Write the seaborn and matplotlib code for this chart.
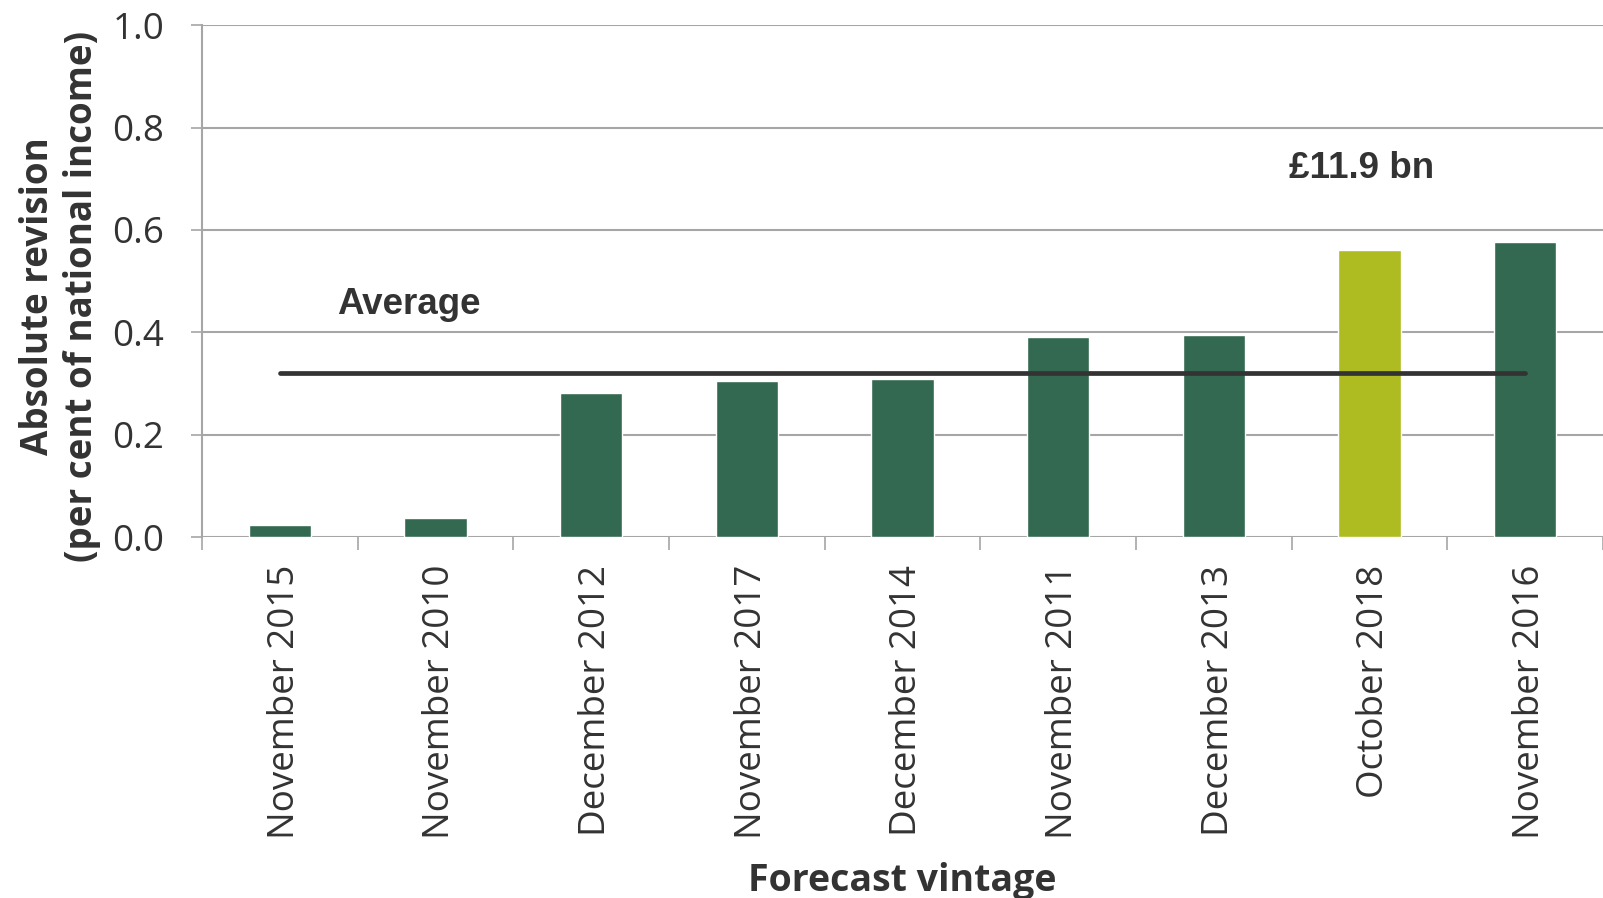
import numpy as np
import pandas as pd
import matplotlib
matplotlib.use("Agg")
import matplotlib.pyplot as plt
import matplotlib.transforms as mtransforms
import seaborn as sns

# ── Data ──────────────────────────────────────────
vintages = ["November 2015", "November 2010", "December 2012", "November 2017",
            "December 2014", "November 2011", "December 2013", "October 2018",
            "November 2016"]
revisions = [0.024, 0.038, 0.281, 0.305, 0.309, 0.391, 0.395, 0.561, 0.577]
average_revision = 0.321
highlight = "October 2018"
highlight_note = "£11.9 bn"

dark_green = "#336950"
lime = "#AEBC21"
text_col = "#333333"
grid_col = "#A6A6A6"

df = pd.DataFrame({"vintage": vintages, "revision": revisions})
palette = {v: (lime if v == highlight else dark_green) for v in vintages}

# ── Plot ──────────────────────────────────────────
sns.set_style("white")
plt.rcParams["font.family"] = ["Open Sans", "DejaVu Sans"]

fig = plt.figure(figsize=(16.03, 8.98), dpi=100)
ax = fig.add_axes([0.126, 0.402, 0.874, 0.570])

sns.barplot(data=df, x="vintage", y="revision", hue="vintage", palette=palette,
            legend=False, width=0.4, saturation=1, ax=ax, zorder=3)

n = len(vintages)
ax.plot(range(n), [average_revision] * n, color=text_col, lw=3.4,
        solid_capstyle="round", zorder=4)

ax.text(0.83, 0.455, "Average", fontsize=26.5, fontweight="bold", color=text_col,
        family=["Liberation Sans", "DejaVu Sans"], ha="center", va="center")
ax.text(6.95, 0.72, highlight_note, fontsize=26.5, fontweight="bold", color=text_col,
        family=["Liberation Sans", "DejaVu Sans"], ha="center", va="center")

ax.set_xlim(-0.5, n - 0.5)
ax.set_ylim(0, 1.0)
ax.set_yticks(np.arange(0, 1.01, 0.2))
ax.set_yticklabels([f"{t:.1f}" for t in np.arange(0, 1.01, 0.2)])
ax.yaxis.grid(True, color=grid_col, lw=1.5, zorder=0)
ax.set_axisbelow(True)

for s in ["top", "right", "bottom"]:
    ax.spines[s].set_visible(False)
ax.spines["left"].set_color(grid_col)
ax.spines["left"].set_linewidth(1.5)

ax.tick_params(axis="y", length=8, width=1.2, color=grid_col, pad=19,
               labelsize=26.5, labelcolor=text_col, left=True)
ax.set_xticks(range(n))
ax.set_xticklabels(vintages, rotation=90)
ax.tick_params(axis="x", which="major", length=0, pad=20, labelsize=26.5,
               labelcolor=text_col)
ax.set_xticks(np.arange(-0.5, n, 1.0), minor=True)
ax.tick_params(axis="x", which="minor", length=9, width=1.2, color=grid_col,
               bottom=True)

# nudge rotated labels slightly right, as in the original
shift = mtransforms.ScaledTranslation(5 / 100, 0, fig.dpi_scale_trans)
for lbl in ax.get_xticklabels():
    lbl.set_transform(lbl.get_transform() + shift)

ax.set_xlabel("Forecast vintage", fontsize=27, fontweight="bold", color=text_col)
ax.xaxis.set_label_coords(0.5, -0.635)
ax.set_ylabel("Absolute revision\n(per cent of national income)", fontsize=26.5,
              fontweight="bold", color=text_col, linespacing=1.2)
ax.yaxis.set_label_coords(-0.072, 0.47)

fig.savefig("out.png", dpi=100)
